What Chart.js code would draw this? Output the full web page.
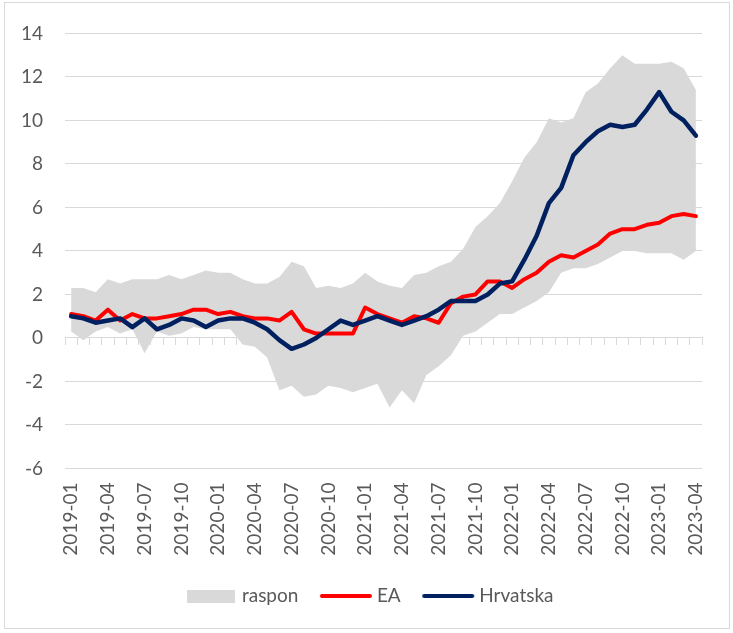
<!DOCTYPE html>
<html>
<head>
<meta charset="utf-8">
<script src="https://cdn.jsdelivr.net/npm/chart.js@4.4.1/dist/chart.umd.min.js"></script>
<style>
  html, body { margin: 0; padding: 0; background: #fff; }
  canvas { display: block; }
</style>
</head>
<body>
<canvas id="chart" width="733" height="633"></canvas>
<script>
/* Core inflation: Croatia vs euro area, with the range across member states. */
const MONTHS = [
  "2019-01", "2019-02", "2019-03", "2019-04", "2019-05", "2019-06", "2019-07", "2019-08", "2019-09", "2019-10", "2019-11", "2019-12",
  "2020-01", "2020-02", "2020-03", "2020-04", "2020-05", "2020-06", "2020-07", "2020-08", "2020-09", "2020-10", "2020-11", "2020-12",
  "2021-01", "2021-02", "2021-03", "2021-04", "2021-05", "2021-06", "2021-07", "2021-08", "2021-09", "2021-10", "2021-11", "2021-12",
  "2022-01", "2022-02", "2022-03", "2022-04", "2022-05", "2022-06", "2022-07", "2022-08", "2022-09", "2022-10", "2022-11", "2022-12",
  "2023-01", "2023-02", "2023-03", "2023-04",
];
const EA = [
  1.1, 1.0, 0.8, 1.3, 0.8, 1.1, 0.9, 0.9, 1.0, 1.1, 1.3, 1.3,
  1.1, 1.2, 1.0, 0.9, 0.9, 0.8, 1.2, 0.4, 0.2, 0.2, 0.2, 0.2,
  1.4, 1.1, 0.9, 0.7, 1.0, 0.9, 0.7, 1.6, 1.9, 2.0, 2.6, 2.6,
  2.3, 2.7, 3.0, 3.5, 3.8, 3.7, 4.0, 4.3, 4.8, 5.0, 5.0, 5.2,
  5.3, 5.6, 5.7, 5.6,
];
const HRVATSKA = [
  1.0, 0.9, 0.7, 0.8, 0.9, 0.5, 0.9, 0.4, 0.6, 0.9, 0.8, 0.5,
  0.8, 0.9, 0.9, 0.7, 0.4, -0.1, -0.5, -0.3, 0.0, 0.4, 0.8, 0.6,
  0.8, 1.0, 0.8, 0.6, 0.8, 1.0, 1.3, 1.7, 1.7, 1.7, 2.0, 2.5,
  2.6, 3.6, 4.7, 6.2, 6.9, 8.4, 9.0, 9.5, 9.8, 9.7, 9.8, 10.5,
  11.3, 10.4, 10.0, 9.3,
];
const RASPON_MIN = [
  0.3, -0.1, 0.3, 0.5, 0.2, 0.4, -0.7, 0.3, 0.1, 0.2, 0.5, 0.4,
  0.4, 0.4, -0.3, -0.4, -0.9, -2.4, -2.2, -2.7, -2.6, -2.2, -2.3, -2.5,
  -2.3, -2.1, -3.2, -2.4, -3.0, -1.7, -1.3, -0.8, 0.1, 0.3, 0.7, 1.1,
  1.1, 1.4, 1.7, 2.1, 3.0, 3.2, 3.2, 3.4, 3.7, 4.0, 4.0, 3.9,
  3.9, 3.9, 3.6, 4.0,
];
const RASPON_MAX = [
  2.3, 2.3, 2.1, 2.7, 2.5, 2.7, 2.7, 2.7, 2.9, 2.7, 2.9, 3.1,
  3.0, 3.0, 2.7, 2.5, 2.5, 2.8, 3.5, 3.3, 2.3, 2.4, 2.3, 2.5,
  3.0, 2.6, 2.4, 2.3, 2.9, 3.0, 3.3, 3.5, 4.1, 5.1, 5.6, 6.2,
  7.2, 8.3, 9.0, 10.1, 9.9, 10.1, 11.3, 11.7, 12.4, 13.0, 12.6, 12.6,
  12.6, 12.7, 12.4, 11.4,
];
const Y_MIN = -6, Y_MAX = 14, Y_STEP = 2;

const RED = "#FF0000";
const NAVY = "#002060";
const BAND = "#D9D9D9";
const GRID = "#D9D9D9";
const TEXT = "#595959";
const FONT = { family: "Lato, 'Open Sans', sans-serif", size: 19 };

// legend swatches: a flat grey box for the range, a thick rounded stroke for the lines
function boxImg(color) {
  const c = document.createElement("canvas");
  c.width = 48; c.height = 13;
  const g = c.getContext("2d");
  g.fillStyle = color;
  g.fillRect(0, 0, 48, 13);
  return c;
}
function lineImg(color) {
  const c = document.createElement("canvas");
  c.width = 54; c.height = 6;
  const g = c.getContext("2d");
  g.strokeStyle = color; g.lineWidth = 4; g.lineCap = "round";
  g.beginPath(); g.moveTo(3, 3); g.lineTo(51, 3); g.stroke();
  return c;
}

const frame = {
  id: "frame",
  // legend sits a bit right of the canvas centre in the original
  afterLayout(chart) {
    chart.legend.left += 15;
    chart.legend.right += 15;
  },
  beforeDraw(chart) {
    const g = chart.ctx;
    g.save();
    g.fillStyle = "#fff";
    g.fillRect(0, 0, chart.width, chart.height);
    g.restore();
  },
  afterDraw(chart) {
    const g = chart.ctx;
    g.save();
    g.strokeStyle = GRID; g.lineWidth = 1;
    g.strokeRect(4.5, 2.5, 725, 626);
    g.restore();
  },
};

const lineStyle = { pointRadius: 0, tension: 0, fill: false, borderJoinStyle: "round", borderCapStyle: "round" };

new Chart(document.getElementById("chart"), {
  type: "line",
  data: {
    labels: MONTHS,
    datasets: [
      Object.assign({ label: "Hrvatska", data: HRVATSKA, borderColor: NAVY, borderWidth: 4.5 }, lineStyle),
      Object.assign({ label: "EA", data: EA, borderColor: RED, borderWidth: 4 }, lineStyle),
      { label: "min", data: RASPON_MIN, borderWidth: 0, pointRadius: 0, fill: false },
      { label: "raspon", data: RASPON_MAX, borderWidth: 0, pointRadius: 0, backgroundColor: BAND, fill: 2 },
    ],
  },
  options: {
    responsive: false,
    animation: false,
    devicePixelRatio: 1,
    layout: { padding: { left: 10, right: 30, top: 30, bottom: 17.5 } },
    plugins: {
      tooltip: { enabled: false },
      legend: {
        position: "bottom",
        labels: {
          usePointStyle: true,
          pointStyleWidth: 43,
          padding: 26,
          color: TEXT,
          font: FONT,
          generateLabels: () => [
            { text: "raspon", pointStyle: boxImg(BAND), datasetIndex: 3, fontColor: TEXT, lineWidth: 0, hidden: false },
            { text: "EA", pointStyle: lineImg(RED), datasetIndex: 1, fontColor: TEXT, lineWidth: 0, hidden: false },
            { text: "Hrvatska", pointStyle: lineImg(NAVY), datasetIndex: 0, fontColor: TEXT, lineWidth: 0, hidden: false },
          ],
        },
      },
    },
    scales: {
      x: {
        offset: true,
        grid: { display: false, drawTicks: false },
        border: { display: false },
        ticks: {
          autoSkip: false, minRotation: 90, maxRotation: 90, padding: 14,
          color: TEXT, font: FONT,
          callback: (v, i) => (i % 3 === 0 ? MONTHS[i] : ""),
        },
        afterFit: (s) => { s.height = 92; },
      },
      // horizontal axis line crossing at zero, with tick marks between months
      x0: {
        type: "category",
        labels: MONTHS,
        position: { y: 0 },
        offset: true,
        grid: { offset: true, drawOnChartArea: false, drawTicks: true, tickLength: 7, color: GRID },
        border: { display: true, color: GRID, width: 1 },
        ticks: { display: false, autoSkip: false },
      },
      y: {
        min: Y_MIN, max: Y_MAX,
        ticks: { stepSize: Y_STEP, padding: 22, color: TEXT, font: FONT },
        grid: { color: GRID, drawTicks: false },
        border: { display: false },
        afterFit: (s) => { s.width = 55; },
      },
    },
  },
  plugins: [frame],
});
</script>
</body>
</html>
